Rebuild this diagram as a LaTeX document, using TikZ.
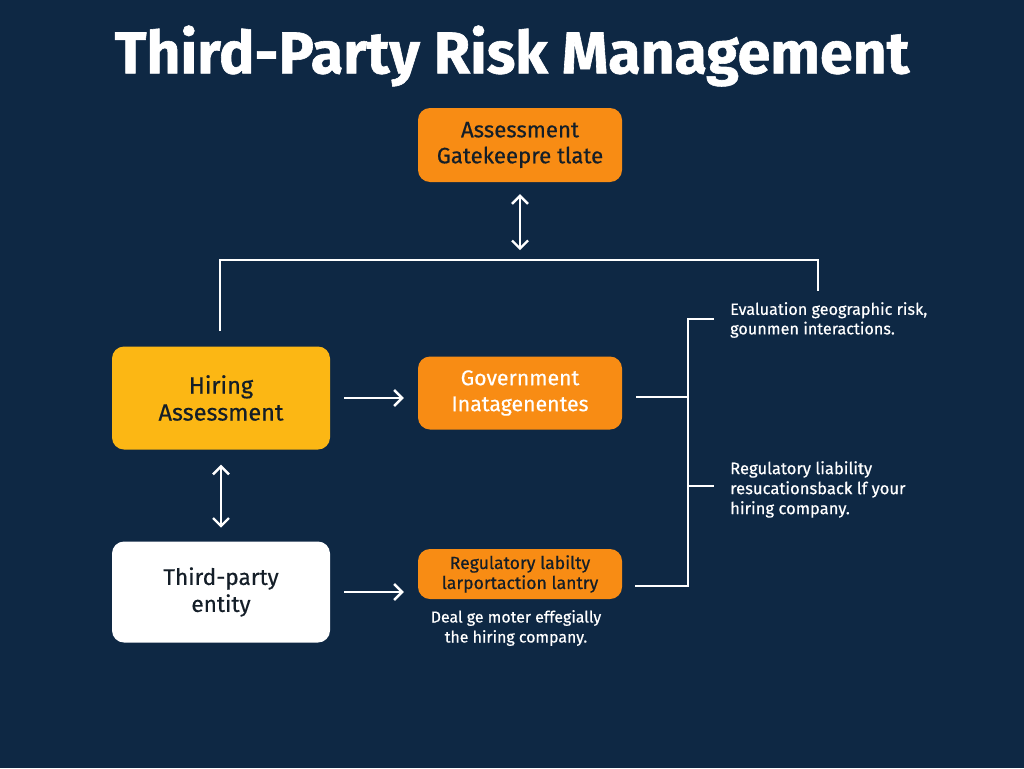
\documentclass[tikz,border=0pt]{standalone}
\usepackage{fontspec}
\setmainfont{Fira Sans}[FakeBold=0.5]
\newfontfamily\titlefont{Fira Sans}[FakeBold=1]
\usetikzlibrary{arrows.meta}
\definecolor{bg}{RGB}{14,40,68}
\definecolor{orangebox}{RGB}{248,140,20}
\definecolor{yellowbox}{RGB}{252,183,20}
\definecolor{darktext}{RGB}{20,30,40}
\tikzset{
  box/.style={rounded corners=12pt, inner sep=0pt, align=center},
  conn/.style={draw=white, line width=2.4pt},
  arr/.style={conn, -{Straight Barb[length=8pt,width=16pt,line width=2.4pt]}},
  darr/.style={conn, {Straight Barb[length=8pt,width=16pt,line width=2.4pt]}-{Straight Barb[length=8pt,width=16pt,line width=2.4pt]}},
  note/.style={text=white, align=left, anchor=north west, inner sep=0pt, font=\fontsize{16.2}{19.5}\selectfont},
}
\begin{document}
\begin{tikzpicture}[x=1pt,y=-1pt]
\useasboundingbox (0,0) rectangle (1024,768);
\fill[bg] (0,0) rectangle (1024,768);
% title
\node[text=white, font=\fontsize{59}{62}\titlefont\bfseries\selectfont] (title) at (512,56) {Third-Party Risk Management};
% boxes
\node[box, fill=orangebox, minimum width=204pt, minimum height=74pt, text=darktext, font=\fontsize{22.2}{26}\selectfont] (gate) at (520,145) {Assessment\\Gatekeepre tlate};
\node[box, fill=yellowbox, minimum width=218pt, minimum height=103pt, text=darktext, font=\fontsize{23.5}{27}\selectfont] (hire) at (221,398) {Hiring\\Assessment};
\node[box, fill=orangebox, minimum width=204pt, minimum height=73pt, text=white, font=\fontsize{21.3}{26}\selectfont] (gov) at (520,393) {Government\\Inatagenentes};
\node[box, fill=white, minimum width=218pt, minimum height=101pt, text=darktext, font=\fontsize{22.6}{27}\selectfont] (third) at (221,592) {Third-party\\entity};
\node[box, fill=orangebox, minimum width=204pt, minimum height=50pt, text=darktext, font=\fontsize{17.6}{20}\selectfont] (reg) at (520,574) {Regulatory labilty\\larportaction lantry};
% notes
\node[text=white, align=center, inner sep=0pt, font=\fontsize{15.9}{20}\selectfont] (deal) at (516,628) {Deal ge moter effegially\\the hiring company.};
\node[note] (eval) at (730,302) {Evaluation geographic risk,\\gounmen interactions.};
\node[note, font=\fontsize{16.6}{20}\selectfont] (regnote) at (730,461) {Regulatory liability\\resucationsback lf your\\hiring company.};
% coordinates
\coordinate (bl) at (220,260);
\coordinate (br) at (818,260);
\coordinate (lend) at (220,331);
\coordinate (rend) at (818,291);
\coordinate (vt) at (688,319);
\coordinate (vm) at (688,486);
\coordinate (vb) at (688,586);
\coordinate (govout) at (636,397);
\coordinate (regout) at (635,586);
\coordinate (evalin) at (714,319);
\coordinate (regin) at (714,486);
% connectors
\draw[darr] ([yshift=-12pt]gate.south) -- ([yshift=-68pt]gate.south);
\draw[conn] (lend) -- (bl) -- (br) -- (rend);
\draw[arr] ([xshift=14pt]hire.east) -- ([xshift=-14pt]hire.east -| gov.west);
\draw[darr] ([yshift=-15pt]hire.south) -- ([yshift=-78pt]hire.south);
\draw[arr] ([xshift=14pt]third.east) -- ([xshift=-14pt]third.east -| reg.west);
\draw[conn] (govout) -- (vt |- govout);
\draw[conn] (evalin) -- (vt) -- (vb) -- (regout);
\draw[conn] (vm) -- (regin);
\end{tikzpicture}
\end{document}
